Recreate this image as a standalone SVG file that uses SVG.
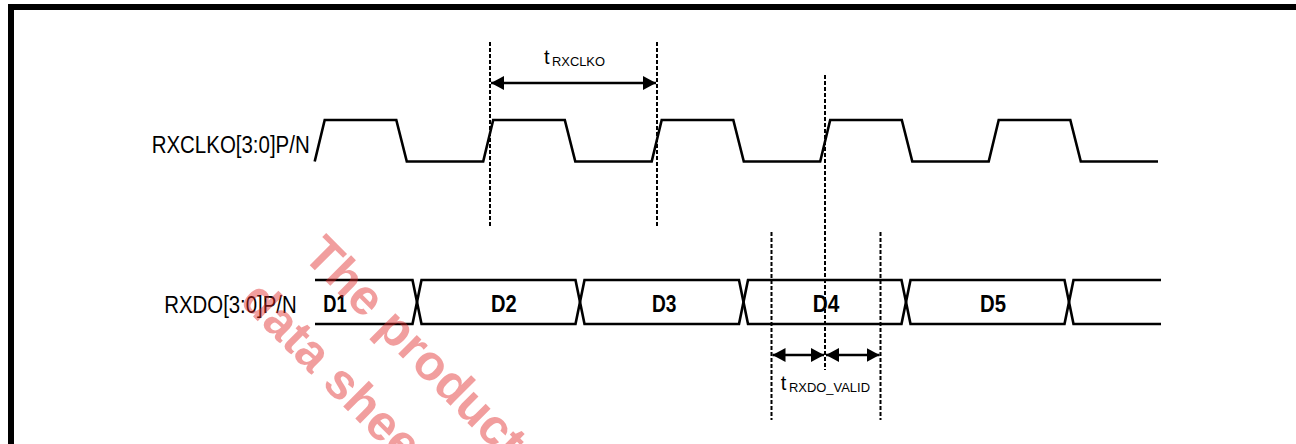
<svg xmlns="http://www.w3.org/2000/svg" width="1296" height="444" viewBox="0 0 1296 444">
<style>
.wave{fill:none;stroke:#000;stroke-width:2.6;stroke-linejoin:miter}
.dash{fill:none;stroke:#000;stroke-width:2;stroke-dasharray:4 2}
.arr{fill:none;stroke:#000;stroke-width:2.5}
.lbl{font-family:"Liberation Sans",Arial,sans-serif;font-size:23px;fill:#000}
.dlbl{font-family:"Liberation Sans",Arial,sans-serif;font-size:23px;font-weight:bold;fill:#000}
.t{font-family:"Liberation Sans",Arial,sans-serif;font-size:20px;fill:#000}
.sub{font-family:"Liberation Sans",Arial,sans-serif;font-size:13.5px;fill:#000}
.wm{font-family:"Liberation Sans",Arial,sans-serif;font-size:50px;font-weight:bold;fill:#e02828;fill-opacity:0.45}
</style>
<defs>
<marker id="ah" markerWidth="14" markerHeight="14" refX="13" refY="7" orient="auto-start-reverse" markerUnits="userSpaceOnUse">
<path d="M0,0 L13,7 L0,14 Z" fill="#000"/>
</marker>
</defs>
<rect width="1296" height="444" fill="#fff"/>
<g id="frame">
<rect x="8" y="4" width="1288" height="6" fill="#000"/>
<rect x="8" y="4" width="6" height="440" fill="#000"/>
</g>
<g id="rxclko">
<text class="lbl" x="151.7" y="152.5" textLength="158" lengthAdjust="spacingAndGlyphs">RXCLKO[3:0]P/N</text>
<path class="wave" d="M314.7,161.5 L324.7,120 L396.3,120 L406.8,161.5 L483.2,161.5 L493.2,120 L564.8,120 L575.3,161.5 L651.7,161.5 L661.7,120 L733.3,120 L743.8,161.5 L820.2,161.5 L830.2,120 L901.8,120 L912.3,161.5 L988.7,161.5 L998.7,120 L1070.3,120 L1080.8,161.5 L1158,161.5"/>
</g>
<g id="rxdo">
<text class="lbl" x="164.3" y="313.3" textLength="132.4" lengthAdjust="spacingAndGlyphs">RXDO[3:0]P/N</text>
<path class="wave" d="M315,280 H412.5 L417,302 L412.5,324 H315"/>
<path class="wave" d="M417,302 L421.5,280 H575.5 L580,302 L575.5,324 H421.5 Z"/>
<path class="wave" d="M580,302 L584.5,280 H739 L743.5,302 L739,324 H584.5 Z"/>
<path class="wave" d="M743.5,302 L748,280 H901.5 L906,302 L901.5,324 H748 Z"/>
<path class="wave" d="M906,302 L910.5,280 H1064.5 L1069,302 L1064.5,324 H910.5 Z"/>
<path class="wave" d="M1161,280 H1073.5 L1069,302 L1073.5,324 H1161"/>
<text class="dlbl" x="323.3" y="312" textLength="23.4" lengthAdjust="spacingAndGlyphs">D1</text>
<text class="dlbl" x="491" y="312" textLength="25.7" lengthAdjust="spacingAndGlyphs">D2</text>
<text class="dlbl" x="652" y="312" textLength="24.5" lengthAdjust="spacingAndGlyphs">D3</text>
<text class="dlbl" x="812.7" y="312" textLength="26.6" lengthAdjust="spacingAndGlyphs">D4</text>
<text class="dlbl" x="980" y="312" textLength="26" lengthAdjust="spacingAndGlyphs">D5</text>
</g>
<g id="connectors">
<line class="dash" x1="490" y1="42" x2="490" y2="228"/>
<line class="dash" x1="657" y1="42" x2="657" y2="228"/>
<line class="dash" x1="825" y1="75" x2="825" y2="370"/>
<line class="dash" x1="771.5" y1="232" x2="771.5" y2="420"/>
<line class="dash" x1="880.5" y1="232" x2="880.5" y2="420"/>
<line class="arr" x1="491" y1="83" x2="656" y2="83" marker-start="url(#ah)" marker-end="url(#ah)"/>
<line class="arr" x1="772.5" y1="355" x2="824" y2="355" marker-start="url(#ah)" marker-end="url(#ah)"/>
<line class="arr" x1="826" y1="355" x2="879.5" y2="355" marker-start="url(#ah)" marker-end="url(#ah)"/>
</g>
<g id="timing-labels">
<text class="t" x="544" y="63.5">t</text>
<text class="sub" x="552" y="65.5" textLength="53" lengthAdjust="spacingAndGlyphs">RXCLKO</text>
<text class="t" x="780.7" y="390">t</text>
<text class="sub" x="789" y="392" textLength="81" lengthAdjust="spacingAndGlyphs">RXDO_VALID</text>
</g>
<g id="watermark">
<text class="wm" transform="translate(301.5,256.9) rotate(45)">The product</text>
<text class="wm" transform="translate(238.5,301.9) rotate(45)">data shee</text>
</g>
</svg>
